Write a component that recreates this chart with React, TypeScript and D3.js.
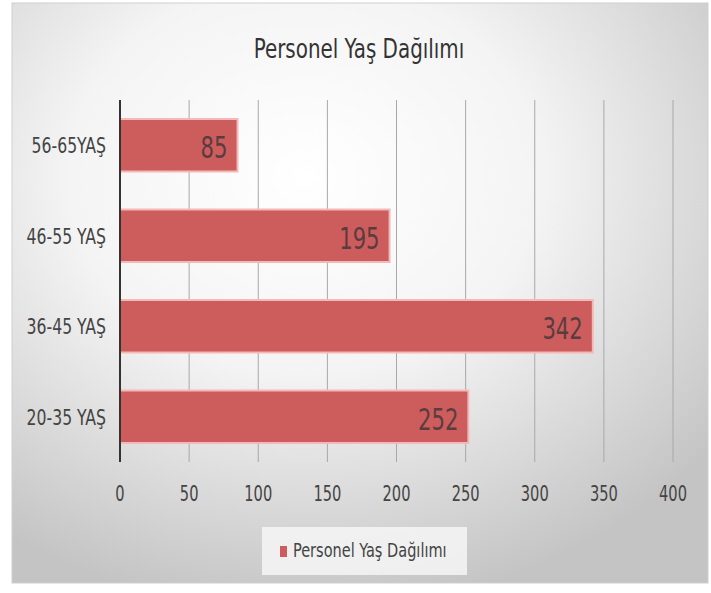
import { useEffect, useRef } from "react";
import * as d3 from "d3";

const categories = ["56-65YAŞ", "46-55 YAŞ", "36-45 YAŞ", "20-35 YAŞ"];
const values = [85, 195, 342, 252];
const xTicks = [0, 50, 100, 150, 200, 250, 300, 350, 400];
const title = "Personel Yaş Dağılımı";
const seriesName = "Personel Yaş Dağılımı";

const W = 711;
const H = 593;
const FONT = "'DejaVu Sans Condensed', 'DejaVu Sans', sans-serif";
const BAR = "#cd5c5c";

type Sel = d3.Selection<SVGGElement, unknown, null, undefined>;

// narrow text: squeeze glyphs horizontally around the anchor point
function squeezed(
  parent: Sel,
  x: number,
  y: number,
  str: string,
  size: number,
  k: number,
  anchor: string,
  fill: string
) {
  parent
    .append("g")
    .attr("transform", `translate(${x},${y}) scale(${k},1)`)
    .append("text")
    .attr("text-anchor", anchor)
    .attr("font-family", FONT)
    .attr("font-size", size)
    .attr("fill", fill)
    .text(str);
}

export default function App() {
  const svgRef = useRef<SVGSVGElement>(null);

  useEffect(() => {
    if (!svgRef.current) return;
    const svg = d3.select(svgRef.current);
    svg.selectAll("*").remove();

    const plot = { left: 120, right: 673, top: 100, bottom: 462 };

    const x = d3.scaleLinear().domain([0, 400]).range([plot.left, plot.right]);
    const y = d3
      .scaleBand<string>()
      .domain(categories)
      .range([plot.top, plot.bottom])
      .paddingInner(0.42)
      .paddingOuter(0.21);

    // panel background
    const defs = svg.append("defs");
    const grad = defs
      .append("radialGradient")
      .attr("id", "bg")
      .attr("cx", "42%")
      .attr("cy", "30%")
      .attr("r", "75%");
    grad.append("stop").attr("offset", "0%").attr("stop-color", "#ffffff");
    grad.append("stop").attr("offset", "45%").attr("stop-color", "#f4f4f4");
    grad.append("stop").attr("offset", "100%").attr("stop-color", "#c4c4c4");

    svg
      .append("rect")
      .attr("x", 12)
      .attr("y", 3)
      .attr("width", 696)
      .attr("height", 580)
      .attr("fill", "url(#bg)")
      .attr("stroke", "#cfcfcf");

    const root = svg.append("g") as unknown as Sel;

    squeezed(root, 359, 58, title, 27, 0.82, "middle", "#333");

    // gridlines
    root
      .append("g")
      .selectAll("line")
      .data(xTicks.slice(1))
      .join("line")
      .attr("x1", (d) => x(d))
      .attr("x2", (d) => x(d))
      .attr("y1", plot.top)
      .attr("y2", plot.bottom)
      .attr("stroke", "#a8a8a8")
      .attr("stroke-width", 1);

    // bars
    root
      .append("g")
      .selectAll("rect")
      .data(values)
      .join("rect")
      .attr("x", x(0))
      .attr("y", (_d, i) => y(categories[i])!)
      .attr("width", (d) => x(d) - x(0))
      .attr("height", y.bandwidth())
      .attr("fill", BAR)
      .attr("stroke", "#f3b9b9")
      .attr("stroke-width", 2);

    // value labels
    values.forEach((v, i) => {
      squeezed(
        root,
        x(v) - 10,
        y(categories[i])! + y.bandwidth() / 2 + 13,
        String(v),
        31,
        0.76,
        "end",
        "#5a3c40"
      );
    });

    // y axis line
    root
      .append("line")
      .attr("x1", x(0))
      .attr("x2", x(0))
      .attr("y1", plot.top)
      .attr("y2", plot.bottom)
      .attr("stroke", "#333")
      .attr("stroke-width", 2);

    // category labels
    categories.forEach((c) => {
      squeezed(root, 106, y(c)! + y.bandwidth() / 2 + 8, c, 21, 0.83, "end", "#444");
    });

    // x tick labels
    xTicks.forEach((t) => {
      squeezed(root, x(t), 501, String(t), 22, 0.74, "middle", "#444");
    });

    // legend
    const lg = root.append("g") as unknown as Sel;
    lg.append("rect")
      .attr("x", 262)
      .attr("y", 527)
      .attr("width", 205)
      .attr("height", 48)
      .attr("fill", "#f6f6f6")
      .attr("opacity", 0.85);
    lg.append("rect")
      .attr("x", 280)
      .attr("y", 546)
      .attr("width", 7)
      .attr("height", 11)
      .attr("fill", BAR);
    squeezed(lg, 293, 557, seriesName, 19, 0.85, "start", "#444");
  }, []);

  return (
    <svg
      ref={svgRef}
      width={W}
      height={H}
      style={{ position: "absolute", left: 0, top: 0, background: "#fff" }}
    />
  );
}
